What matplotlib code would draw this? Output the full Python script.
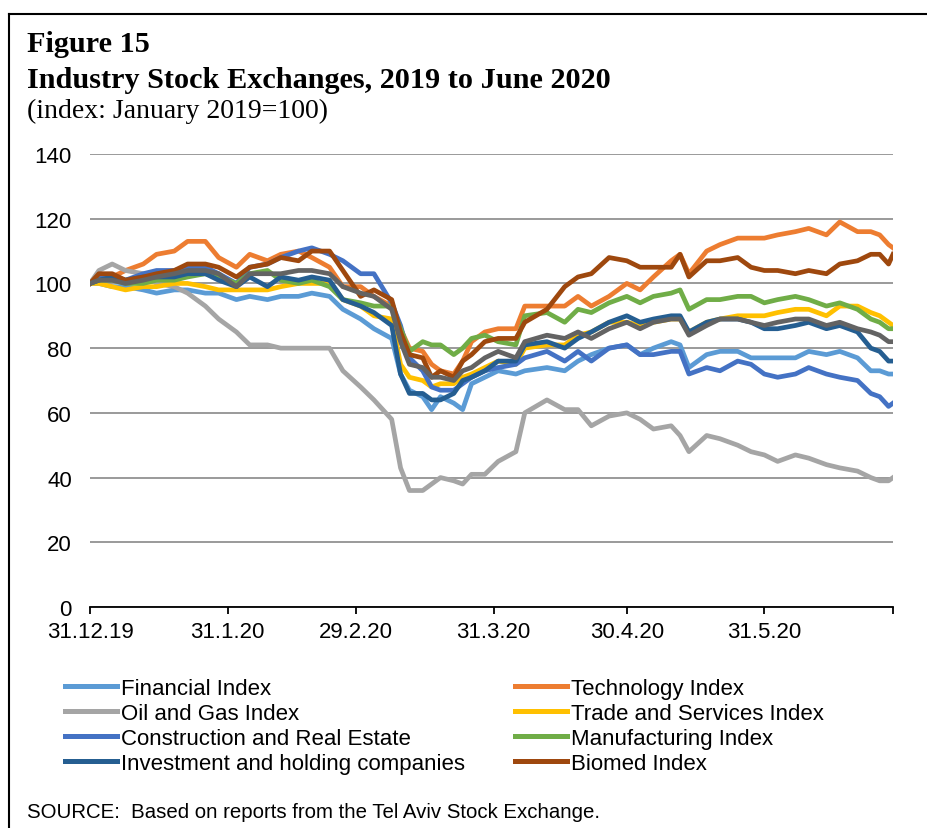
import pandas as pd
import matplotlib.pyplot as plt
from matplotlib.lines import Line2D

dates = pd.to_datetime([
    "2019-12-31", "2020-01-02", "2020-01-05", "2020-01-08", "2020-01-12", "2020-01-15",
    "2020-01-19", "2020-01-22", "2020-01-26", "2020-01-29", "2020-02-02", "2020-02-05",
    "2020-02-09", "2020-02-12", "2020-02-16", "2020-02-19", "2020-02-23", "2020-02-26",
    "2020-03-01", "2020-03-04", "2020-03-08", "2020-03-10", "2020-03-12", "2020-03-15",
    "2020-03-17", "2020-03-19", "2020-03-22", "2020-03-24", "2020-03-26", "2020-03-29",
    "2020-04-01", "2020-04-05", "2020-04-07", "2020-04-12", "2020-04-16", "2020-04-19",
    "2020-04-22", "2020-04-26", "2020-04-30", "2020-05-03", "2020-05-06", "2020-05-10",
    "2020-05-12", "2020-05-14", "2020-05-18", "2020-05-21", "2020-05-25", "2020-05-28",
    "2020-05-31", "2020-06-03", "2020-06-07", "2020-06-10", "2020-06-14", "2020-06-17",
    "2020-06-21", "2020-06-24", "2020-06-26", "2020-06-28", "2020-06-29",
])

financial = [100, 100, 99, 99, 98, 97, 98, 98, 97, 97, 95, 96, 95, 96, 96, 97, 96, 92,
             89, 86, 83, 72, 67, 65, 61, 65, 63, 61, 69, 71, 73, 72, 73, 74, 73, 76,
             78, 80, 81, 78, 80, 82, 81, 74, 78, 79, 79, 77, 77, 77, 77, 79, 78, 79,
             77, 73, 73, 72, 72]
technology = [100, 101, 102, 104, 106, 109, 110, 113, 113, 108, 105, 109, 107, 109, 110, 108, 105, 99,
              99, 96, 93, 86, 80, 79, 75, 73, 72, 76, 82, 85, 86, 86, 93, 93, 93, 96,
              93, 96, 100, 98, 102, 107, 109, 103, 110, 112, 114, 114, 114, 115, 116, 117, 115, 119,
              116, 116, 115, 112, 111]
oil_gas = [100, 104, 106, 104, 103, 100, 99, 97, 93, 89, 85, 81, 81, 80, 80, 80, 80, 73,
           68, 64, 58, 43, 36, 36, 38, 40, 39, 38, 41, 41, 45, 48, 60, 64, 61, 61,
           56, 59, 60, 58, 55, 56, 53, 48, 53, 52, 50, 48, 47, 45, 47, 46, 44, 43,
           42, 40, 39, 39, 40]
trade = [100, 100, 99, 98, 99, 99, 100, 100, 99, 98, 98, 98, 98, 99, 100, 100, 100, 95,
         93, 90, 89, 75, 71, 70, 68, 69, 69, 71, 72, 74, 76, 75, 80, 81, 81, 84,
         85, 88, 88, 87, 88, 89, 89, 85, 88, 89, 90, 90, 90, 91, 92, 92, 90, 93,
         93, 91, 90, 88, 87]
construction = [100, 102, 102, 101, 103, 104, 104, 105, 105, 103, 100, 105, 106, 108, 110, 111, 109, 107,
                103, 103, 94, 87, 77, 73, 68, 67, 67, 69, 71, 73, 74, 75, 77, 79, 76, 79,
                76, 80, 81, 78, 78, 79, 79, 72, 74, 73, 76, 75, 72, 71, 72, 74, 72, 71,
                70, 66, 65, 62, 63]
manufacturing = [100, 101, 101, 100, 100, 101, 101, 102, 103, 102, 100, 103, 104, 101, 100, 101, 99, 95,
                 94, 93, 93, 86, 79, 82, 81, 81, 78, 80, 83, 84, 82, 81, 90, 91, 88, 92,
                 91, 94, 96, 94, 96, 97, 98, 92, 95, 95, 96, 96, 94, 95, 96, 95, 93, 94,
                 92, 89, 88, 86, 86]
investment = [100, 101, 102, 101, 102, 102, 102, 103, 103, 101, 99, 102, 99, 102, 101, 102, 101, 95,
              93, 91, 87, 72, 66, 66, 64, 64, 66, 70, 71, 73, 76, 76, 81, 82, 80, 83,
              85, 88, 90, 88, 89, 90, 90, 85, 88, 89, 89, 88, 86, 86, 87, 88, 86, 87,
              85, 80, 79, 76, 76]
biomed = [100, 103, 103, 101, 102, 103, 104, 106, 106, 105, 102, 105, 106, 108, 107, 110, 110, 104,
          96, 98, 95, 85, 78, 77, 71, 73, 71, 76, 78, 82, 83, 83, 88, 92, 99, 102,
          103, 108, 107, 105, 105, 105, 109, 102, 107, 107, 108, 105, 104, 104, 103, 104, 103, 106,
          107, 109, 109, 106, 109]
# unlabelled series (dark grey, no legend entry in the original)
general = [100, 101, 101, 100, 101, 102, 103, 104, 104, 103, 99, 103, 103, 103, 104, 104, 103, 99,
           97, 96, 92, 82, 75, 74, 71, 71, 70, 73, 74, 77, 79, 77, 82, 84, 83, 85,
           83, 86, 88, 86, 88, 89, 89, 84, 87, 89, 89, 88, 87, 88, 89, 89, 87, 88,
           86, 85, 84, 82, 82]

labels = ["Financial Index", "Technology Index", "Oil and Gas Index", "Trade and Services Index",
          "Construction and Real Estate", "Manufacturing Index",
          "Investment and holding companies", "Biomed Index"]
series = [financial, technology, oil_gas, trade, construction, manufacturing, investment, biomed]
colors = ["#5B9BD5", "#ED7D31", "#A5A5A5", "#FFC000", "#4472C4", "#70AD47", "#255E91", "#9E480E"]

tick_dates = pd.to_datetime(["2019-12-31", "2020-01-31", "2020-02-29", "2020-03-31",
                             "2020-04-30", "2020-05-31", "2020-06-29"])
tick_labels = ["31.12.19", "31.1.20", "29.2.20", "31.3.20", "30.4.20", "31.5.20", ""]

plt.rcParams["font.family"] = ["Liberation Sans", "DejaVu Sans"]

W, H = 928, 829
fig = plt.figure(figsize=(W / 100, H / 100), dpi=100)
ax = fig.add_axes([90 / W, 1 - 608 / H, (893 - 90) / W, (608 - 155) / H])

for vals, col in zip(series, colors):
    ax.plot(dates, vals, color=col, linewidth=3.4, solid_joinstyle="round")
ax.plot(dates, general, color="#636363", linewidth=3.4, solid_joinstyle="round")

ax.set_xlim(dates[0], dates[-1])
ax.set_ylim(0, 140)
ax.set_yticks(range(0, 141, 20))
ax.set_xticks(tick_dates)
ax.set_xticklabels(tick_labels)
ax.yaxis.grid(True, color="#898989", linewidth=1.2)
ax.set_axisbelow(True)
for s in ["top", "right", "left"]:
    ax.spines[s].set_visible(False)
ax.spines["bottom"].set_linewidth(1.3)
ax.spines["bottom"].set_zorder(5)
ax.tick_params(axis="y", length=0, pad=13, labelsize=16)
ax.tick_params(axis="x", direction="out", length=5, width=1.3, pad=5, labelsize=16)

# title block
fig.text(27 / W, 1 - 52 / H, "Figure 15", family="Liberation Serif", weight="bold", fontsize=21.8)
fig.text(27 / W, 1 - 88 / H, "Industry Stock Exchanges, 2019 to June 2020",
         family="Liberation Serif", weight="bold", fontsize=21.8)
fig.text(27 / W, 1 - 118 / H, "(index: January 2019=100)", family="Liberation Serif", fontsize=20)

# legend in two columns
handles = [Line2D([0], [0], color=c, linewidth=3.6) for c in colors]
leg_kw = dict(frameon=False, fontsize=16, handlelength=2.35, handletextpad=0.18,
              labelspacing=0.18, borderpad=0, borderaxespad=0, loc="upper left")
fig.legend(handles[0::2], labels[0::2], bbox_to_anchor=(65 / W, 1 - 679 / H), **leg_kw)
fig.legend(handles[1::2], labels[1::2], bbox_to_anchor=(515 / W, 1 - 679 / H), **leg_kw)

fig.text(27 / W, 1 - 818 / H, "SOURCE:  Based on reports from the Tel Aviv Stock Exchange.", fontsize=14.7)

# frame (left and top edges only are visible)
fig.add_artist(Line2D([9 / W, 9 / W], [0, 1 - 15 / H], color="black", linewidth=1.5))
fig.add_artist(Line2D([9 / W, 1], [1 - 15 / H, 1 - 15 / H], color="black", linewidth=1.5))

fig.savefig("out.png", dpi=100)
